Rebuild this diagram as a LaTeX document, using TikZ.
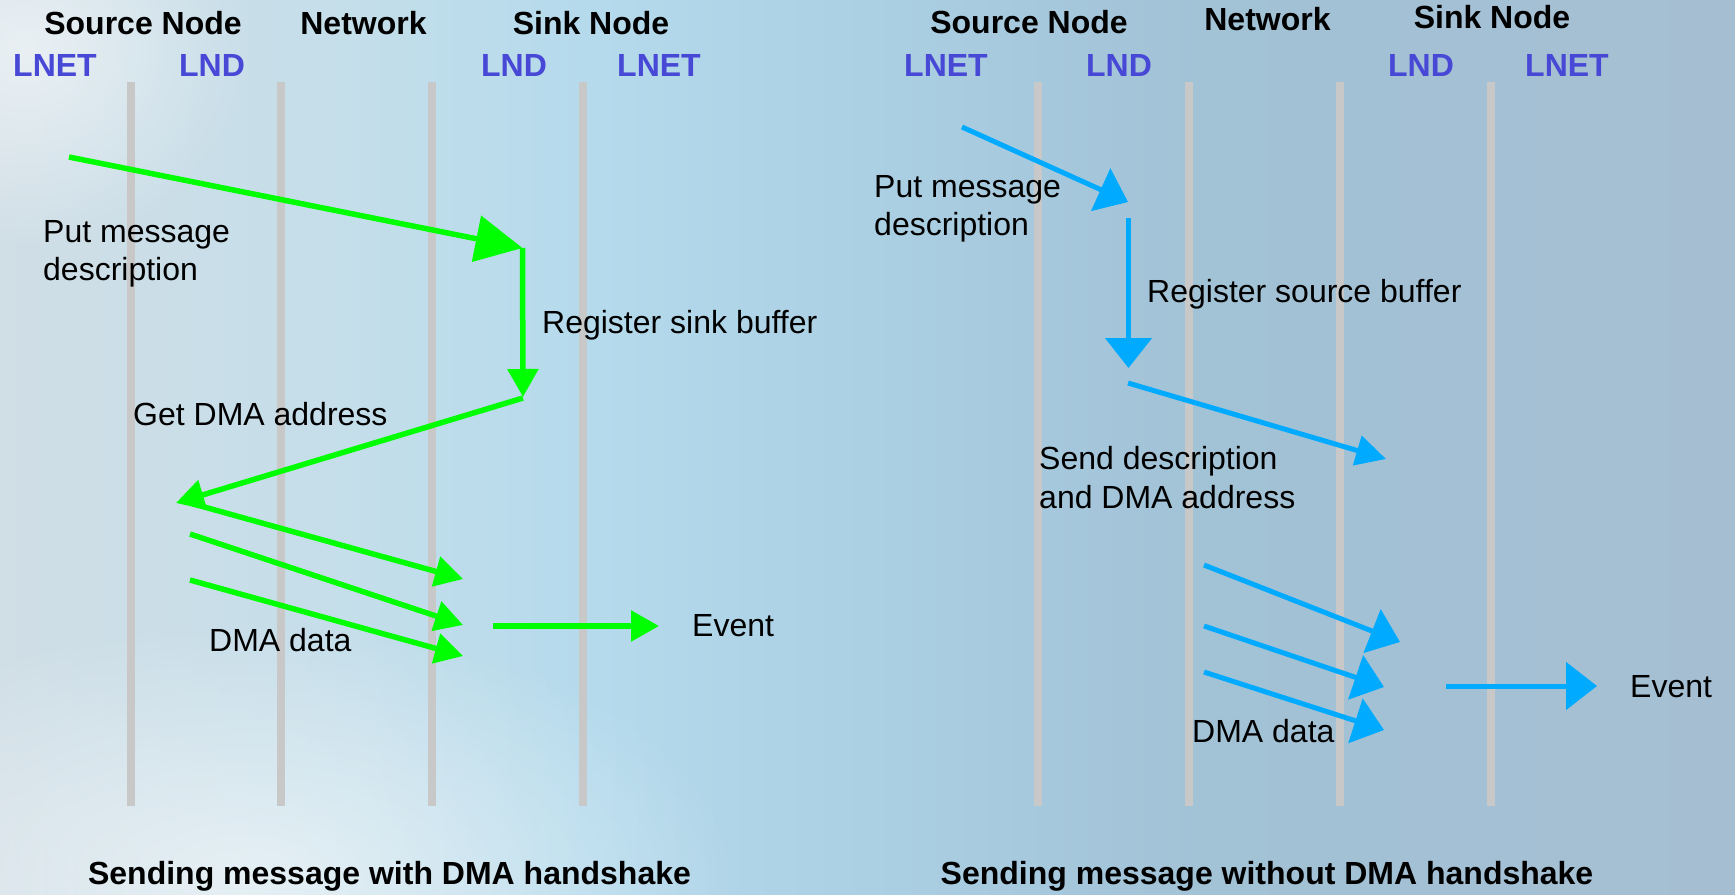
\documentclass[tikz,border=0pt]{standalone}
\usepackage{fontspec}
\setmainfont{Liberation Sans}
\usetikzlibrary{arrows.meta,fadings}

\definecolor{lnetblue}{RGB}{72,72,214}
\definecolor{grn}{RGB}{0,255,0}
\definecolor{sky}{RGB}{0,170,255}
\definecolor{linegray}{RGB}{200,200,200}
\definecolor{bgA}{RGB}{208,222,230}
\definecolor{bgB}{RGB}{196,222,234}
\definecolor{bgC}{RGB}{180,218,236}
\definecolor{bgD}{RGB}{170,206,226}
\definecolor{bgE}{RGB}{162,194,214}
\definecolor{bgF}{RGB}{166,190,210}

% background wash, left to right (the path box maps onto 25bp..75bp)
\pgfdeclarehorizontalshading{bgwash}{100bp}{color(0bp)=(bgA); color(25bp)=(bgA);
  color(35.1bp)=(bgB); color(42.3bp)=(bgC); color(50.9bp)=(bgD);
  color(59.6bp)=(bgE); color(75bp)=(bgF); color(100bp)=(bgF)}

% soft light patch, opaque in the middle and fading out smoothly
\tikzfading[name=softglow, inner color=transparent!45, outer color=transparent!100]

\tikzset{
  hdr/.style={font=\fontsize{32bp}{38bp}\selectfont\bfseries, inner sep=0pt, anchor=base},
  layer/.style={hdr, text=lnetblue},
  lbl/.style={font=\fontsize{32bp}{38bp}\selectfont, inner sep=0pt, anchor=base west},
  lifeline/.style={draw=linegray, line width=8bp},
  gmsg/.style={draw=grn, fill=grn, line width=5.5bp, -{Triangle[length=28bp,width=30bp]}},
  bmsg/.style={draw=sky, fill=sky, line width=5bp, -{Triangle[length=30bp,width=46bp]}},
}

\begin{document}
\begin{tikzpicture}[x=1bp,y=-1bp]
\useasboundingbox (0,0) rectangle (1735,894);
\shade[shading=bgwash] (0,0) rectangle (1735,894);
\fill[white, path fading=softglow] (-250,620) rectangle (750,1140);
\fill[white, path fading=softglow] (-200,-150) rectangle (250,250);

% lifelines
\foreach \x/\n in {130.6/a,281/b,431.5/c,583/d,1037.5/e,1188.5/f,1340/g,1490.5/h}{
  \coordinate (top\n) at (\x,82);
  \coordinate (bot\n) at (\x,806);
  \draw[lifeline] (top\n) -- (bot\n);
}

% ---------- with DMA handshake ----------
\node[hdr] (srcL) at (143,34) {Source Node};
\node[hdr] (netL) at (363.5,34) {Network};
\node[hdr] (snkL) at (591,34) {Sink Node};
\node[layer] (lnetA) at (55,76) {LNET};
\node[layer] (lndA) at (212,76) {LND};
\node[layer] (lndB) at (514,76) {LND};
\node[layer] (lnetB) at (659,76) {LNET};

\node[lbl] (putL1) at (43,242) {Put message};
\node[lbl] (putL2) at (43,280) {description};
\node[lbl] (regL) at (542,333) {Register sink buffer};
\node[lbl] (getL) at (133,425) {Get DMA address};
\node[lbl] (dmaL) at (209,651) {DMA data};
\node[lbl] (evL) at (692,636) {Event};

\coordinate (g0) at (69,157);
\coordinate (g1) at (522.5,248);
\coordinate (g2) at (523,397);
\coordinate (g3) at (523,398);
\coordinate (g4) at (176,503);
\coordinate (d1s) at (190,503);
\coordinate (d1e) at (463,579);
\coordinate (d2s) at (190,534);
\coordinate (d2e) at (463,625);
\coordinate (d3s) at (190,580);
\coordinate (d3e) at (463,656);
\coordinate (evLs) at (493,626);
\coordinate (evLe) at (659,626);

\draw[gmsg, -{Triangle[length=47bp,width=46bp]}] (g0) -- (g1);
\draw[gmsg] (g1) -- (g2);
\draw[gmsg] (g3) -- (g4);
\draw[gmsg] (d1s) -- (d1e);
\draw[gmsg] (d2s) -- (d2e);
\draw[gmsg] (d3s) -- (d3e);
\draw[gmsg] (evLs) -- (evLe);

% ---------- without DMA handshake ----------
\node[hdr] (srcR) at (1029,33) {Source Node};
\node[hdr] (netR) at (1267.5,30) {Network};
\node[hdr] (snkR) at (1492,28) {Sink Node};
\node[layer] (lnetC) at (946,76) {LNET};
\node[layer] (lndC) at (1119,76) {LND};
\node[layer] (lndD) at (1421,76) {LND};
\node[layer] (lnetD) at (1567,76) {LNET};

\node[lbl] (putR1) at (874,197) {Put message};
\node[lbl] (putR2) at (874,235) {description};
\node[lbl] (regR) at (1147,302) {Register source buffer};
\node[lbl] (sndR1) at (1039,469) {Send description};
\node[lbl] (sndR2) at (1039,508) {and DMA address};
\node[lbl] (dmaR) at (1192,742) {DMA data};
\node[lbl] (evR) at (1630,697) {Event};

\coordinate (b0) at (962,127);
\coordinate (b1) at (1128,202);
\coordinate (b2) at (1128.5,218);
\coordinate (b3) at (1128.5,368);
\coordinate (b4) at (1128,383);
\coordinate (b5) at (1386,459);
\coordinate (e1s) at (1204,565);
\coordinate (e1e) at (1400,642);
\coordinate (e2s) at (1204,626);
\coordinate (e2e) at (1384,687);
\coordinate (e3s) at (1204,672);
\coordinate (e3e) at (1384,730);
\coordinate (evRs) at (1446,686);
\coordinate (evRe) at (1597,686);

\draw[bmsg] (b0) -- (b1);
\draw[bmsg] (b2) -- (b3);
\draw[bmsg, -{Triangle[length=30bp,width=30bp]}] (b4) -- (b5);
\draw[bmsg] (e1s) -- (e1e);
\draw[bmsg] (e2s) -- (e2e);
\draw[bmsg] (e3s) -- (e3e);
\draw[bmsg, -{Triangle[length=31bp,width=47bp]}] (evRs) -- (evRe);

% captions
\node[hdr] (capL) at (389.5,884) {Sending message with DMA handshake};
\node[hdr] (capR) at (1267,884) {Sending message without DMA handshake};
\end{tikzpicture}
\end{document}
